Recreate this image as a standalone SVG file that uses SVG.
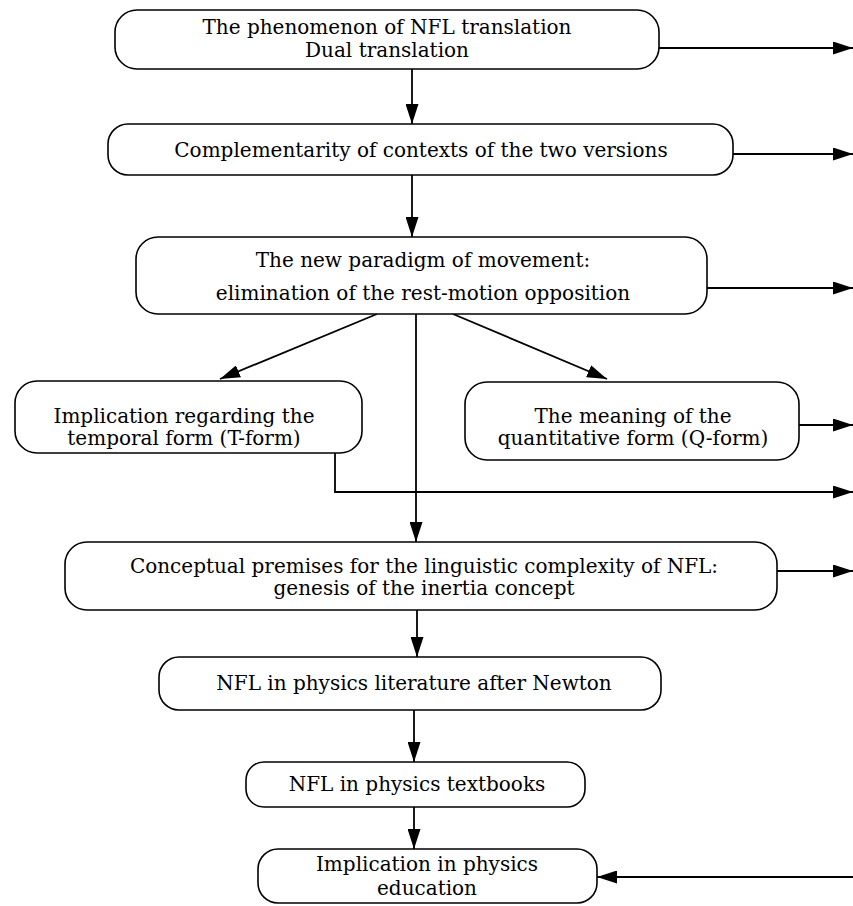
<svg xmlns="http://www.w3.org/2000/svg" width="853" height="906" viewBox="0 0 853 906">
<style>
.box{fill:#fff;stroke:#000;stroke-width:1.6}
.t{font-family:"DejaVu Serif","Liberation Serif",serif;font-size:20px;fill:#000;text-anchor:middle}
.c{fill:none;stroke:#000;stroke-width:1.8}
</style>
<defs>
<marker id="ah" markerUnits="userSpaceOnUse" viewBox="0 0 20 13" refX="20" refY="6.5" markerWidth="20" markerHeight="13" orient="auto">
<path d="M0,0 L20,6.5 L0,13 z" fill="#000"/>
</marker>
</defs>
<rect width="853" height="906" fill="#fff"/>
<g id="connectors">
<line class="c" x1="412" y1="69" x2="412" y2="124" marker-end="url(#ah)"/>
<line class="c" x1="412" y1="175" x2="412" y2="237" marker-end="url(#ah)"/>
<line class="c" x1="659" y1="48" x2="853" y2="48" marker-end="url(#ah)"/>
<line class="c" x1="733" y1="154" x2="853" y2="154" marker-end="url(#ah)"/>
<line class="c" x1="707" y1="288" x2="853" y2="288" marker-end="url(#ah)"/>
<line class="c" x1="377" y1="314" x2="220" y2="379" marker-end="url(#ah)"/>
<line class="c" x1="453" y1="314" x2="607" y2="379" marker-end="url(#ah)"/>
<line class="c" x1="416" y1="314" x2="416" y2="542" marker-end="url(#ah)"/>
<line class="c" x1="799" y1="425" x2="853" y2="425" marker-end="url(#ah)"/>
<polyline class="c" points="335,453 335,492 853,492" marker-end="url(#ah)"/>
<line class="c" x1="777" y1="571" x2="853" y2="571" marker-end="url(#ah)"/>
<line class="c" x1="417" y1="610" x2="417" y2="657" marker-end="url(#ah)"/>
<line class="c" x1="414" y1="710" x2="414" y2="762" marker-end="url(#ah)"/>
<line class="c" x1="414" y1="807" x2="414" y2="849" marker-end="url(#ah)"/>
<line class="c" x1="853" y1="877" x2="597" y2="877" marker-end="url(#ah)"/>
</g>
<g id="n1">
<rect class="box" x="115" y="10" width="544" height="59" rx="22"/>
<text class="t" x="387" y="34">The phenomenon of NFL translation</text>
<text class="t" x="387" y="57">Dual translation</text>
</g>
<g id="n2">
<rect class="box" x="108" y="124" width="625" height="51" rx="20"/>
<text class="t" x="421" y="157">Complementarity of contexts of the two versions</text>
</g>
<g id="n3">
<rect class="box" x="136" y="237" width="571" height="77" rx="22"/>
<text class="t" x="423" y="267">The new paradigm of movement:</text>
<text class="t" x="423" y="300">elimination of the rest-motion opposition</text>
</g>
<g id="n4">
<rect class="box" x="15" y="381" width="347" height="72" rx="22"/>
<text class="t" x="184" y="423">Implication regarding the</text>
<text class="t" x="184" y="445">temporal form (T-form)</text>
</g>
<g id="n5">
<rect class="box" x="465" y="382" width="334" height="78" rx="22"/>
<text class="t" x="633" y="423">The meaning of the</text>
<text class="t" x="633" y="445">quantitative form (Q-form)</text>
</g>
<g id="n6">
<rect class="box" x="65" y="542" width="712" height="68" rx="22"/>
<text class="t" x="424" y="573">Conceptual premises for the linguistic complexity of NFL:</text>
<text class="t" x="424" y="595">genesis of the inertia concept</text>
</g>
<g id="n7">
<rect class="box" x="159" y="657" width="502" height="53" rx="20"/>
<text class="t" x="414" y="690">NFL in physics literature after Newton</text>
</g>
<g id="n8">
<rect class="box" x="246" y="762" width="339" height="45" rx="18"/>
<text class="t" x="417" y="791">NFL in physics textbooks</text>
</g>
<g id="n9">
<rect class="box" x="258" y="849" width="339" height="54" rx="20"/>
<text class="t" x="427" y="871">Implication in physics</text>
<text class="t" x="427" y="895">education</text>
</g>
</svg>
